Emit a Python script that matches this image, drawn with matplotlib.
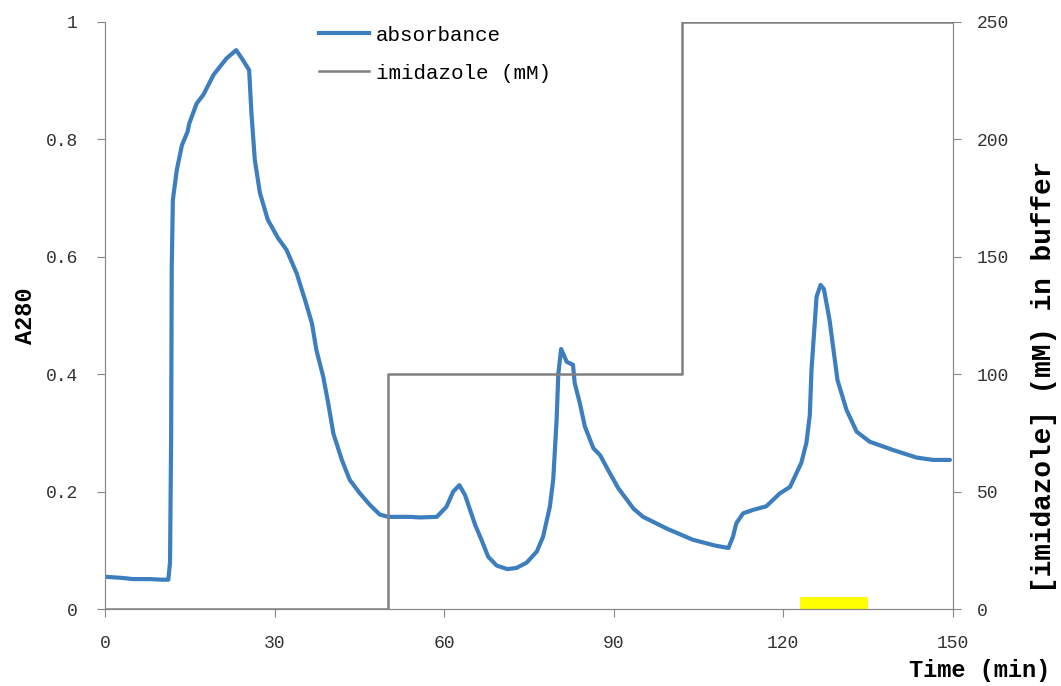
import matplotlib
matplotlib.use("Agg")
import matplotlib.pyplot as plt
from matplotlib.ticker import FuncFormatter
from matplotlib.lines import Line2D

# absorbance trace (A280) versus time (min)
time = [0, 3, 5, 8, 10, 11.2, 11.5, 11.7, 11.8, 12.0, 12.7, 13.6, 14.6, 14.9, 16.2, 17.4,
        19.2, 21.5, 23.2, 24.2, 25.5, 25.9, 26.5, 27.4, 28.8, 30.6, 32.1, 33.9, 35.4,
        36.6, 37.4, 38.6, 39.5, 40.4, 41.9, 43.3, 45.1, 46.9, 48.6, 50.1, 54, 55.7,
        58.7, 60.4, 61.6, 62.7, 63.7, 65.5, 66.6, 67.8, 69.3, 71.2, 72.8, 74.6, 76.4,
        77.5, 78.7, 79.3, 79.9, 80.2, 80.7, 81.7, 82.8, 83.1, 84.0, 84.9, 86.4, 87.6,
        89.0, 90.8, 93.5, 95.2, 99.4, 104, 108, 110.3, 111.1, 111.7, 112.9, 114.7, 117,
        118.2, 119.4, 121.2, 123.2, 124.1, 124.7, 125.0, 125.9, 126.6, 127.2, 128.2,
        129.6, 131.2, 133, 135.3, 139.4, 143.6, 146.5, 149.5]
a280 = [0.055, 0.053, 0.051, 0.051, 0.050, 0.050, 0.08, 0.30, 0.58, 0.697, 0.748, 0.79,
        0.813, 0.827, 0.861, 0.876, 0.91, 0.938, 0.952, 0.938, 0.918, 0.845, 0.765, 0.709,
        0.663, 0.632, 0.612, 0.572, 0.526, 0.487, 0.441, 0.396, 0.350, 0.299, 0.254,
        0.220, 0.197, 0.177, 0.161, 0.157, 0.157, 0.156, 0.157, 0.174, 0.200, 0.211,
        0.194, 0.143, 0.118, 0.089, 0.074, 0.068, 0.070, 0.079, 0.098, 0.123, 0.174,
        0.220, 0.322, 0.40, 0.443, 0.421, 0.416, 0.385, 0.351, 0.311, 0.274, 0.262,
        0.237, 0.206, 0.171, 0.157, 0.137, 0.118, 0.108, 0.104, 0.123, 0.146, 0.163,
        0.169, 0.175, 0.186, 0.197, 0.208, 0.249, 0.283, 0.33, 0.407, 0.532, 0.552,
        0.545, 0.492, 0.39, 0.339, 0.302, 0.285, 0.271, 0.258, 0.254, 0.254]

# imidazole step gradient (mM)
imid_time = [0, 50, 102, 150]
imid_conc = [0, 100, 250, 250]

# collected fraction marker
frac_start = 123
frac_end = 135
frac_height = 0.02

font = "Liberation Mono"
grey = "#888888"
txt = "#333333"

fig = plt.figure(figsize=(10.61, 6.86), dpi=100)
ax = fig.add_axes([0.099, 0.1122, 0.799, 0.8558])
ax2 = ax.twinx()

ax.bar([frac_start], [frac_height], width=frac_end - frac_start, align="edge",
       color="#ffff00", zorder=1)
ax.plot(time, a280, color="#3d7ebf", lw=3, solid_capstyle="round", zorder=3)
ax2.plot(imid_time, imid_conc, color="#808080", lw=1.8, drawstyle="steps-post")

ax.set_xlim(0, 150)
ax.set_ylim(0, 1)
ax2.set_ylim(0, 250)
ax.set_xticks([0, 30, 60, 90, 120, 150])
ax.set_yticks([0, 0.2, 0.4, 0.6, 0.8, 1])
ax2.set_yticks([0, 50, 100, 150, 200, 250])
ax.yaxis.set_major_formatter(FuncFormatter(lambda v, p: "%g" % v))

for a in (ax, ax2):
    for s in a.spines.values():
        s.set_color(grey)
    a.spines["top"].set_visible(False)
ax.tick_params(axis="x", length=6, color=grey, pad=13, labelsize=13, labelcolor=txt)
ax.tick_params(axis="y", length=6, color=grey, pad=13.7, labelsize=13, labelcolor=txt)
ax2.tick_params(axis="y", length=6, color=grey, pad=11.5, labelsize=13, labelcolor=txt)
for lab in ax.get_xticklabels() + ax.get_yticklabels() + ax2.get_yticklabels():
    lab.set_fontfamily(font)

ax.set_ylabel("A280", fontfamily=font, fontweight="bold", fontsize=17, labelpad=6)
# right-hand axis title sits a little below the axis middle in the original
fig.text(0.984, 0.45, "[imidazole] (mM) in buffer", rotation=90, ha="center",
         va="center", fontfamily=font, fontweight="bold", fontsize=20)
fig.text(0.99, 0.022, "Time (min)", ha="right", va="center", fontfamily=font,
         fontweight="bold", fontsize=17)

handles = [Line2D([], [], color="#3d7ebf", lw=3),
           Line2D([], [], color="#808080", lw=1.8)]
fig.legend(handles, ["absorbance", "imidazole (mM)"], loc="upper left",
           bbox_to_anchor=(0.283, 0.99), frameon=False, handlelength=2.4,
           handletextpad=0.33, labelspacing=0.92, prop={"family": font, "size": 15})

fig.savefig("out.png", dpi=100)
